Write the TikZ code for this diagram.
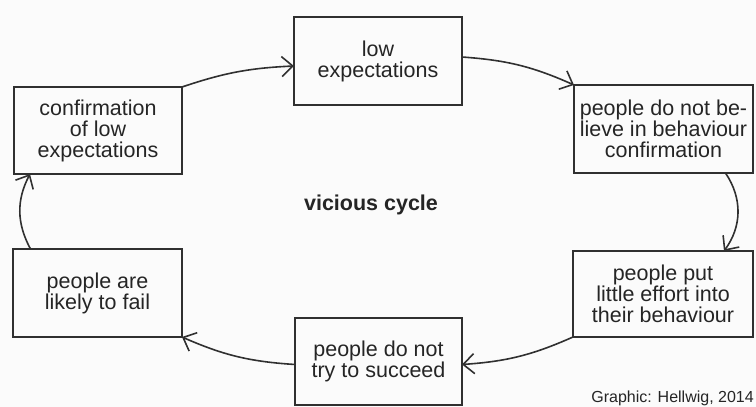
\documentclass[tikz,border=0pt]{standalone}
\usepackage{fontspec}
\setmainfont{Liberation Sans}
\usetikzlibrary{arrows.meta}
\definecolor{linecol}{HTML}{303030}
\definecolor{textcol}{HTML}{252525}
\definecolor{bgcol}{HTML}{FBFBFB}
\tikzset{
  box/.style={draw=linecol, line width=1.8pt, rectangle, inner sep=0pt, outer sep=0pt,
    align=center, text=textcol, font=\fontsize{21.5}{21}\selectfont},
  conn/.style={draw=linecol, line width=1.6pt,
    -{Straight Barb[length=11pt,width=20pt,line width=1.6pt]}},
}
\begin{document}
\begin{tikzpicture}[x=1pt,y=-1pt]
\fill[bgcol] (0,0) rectangle (756,407);
\useasboundingbox (0,0) rectangle (756,407);

\node[box, minimum width=168pt, minimum height=88pt] (low) at (378,61) {low\\expectations};
\node[box, minimum width=168pt, minimum height=87pt] (conf) at (98,130.5) {confirmation\\of low\\expectations};
\node[box, minimum width=179pt, minimum height=88pt] (believe) at (663.5,129) {people do not be-\\lieve in behaviour\\confirmation};
\node[box, minimum width=180pt, minimum height=86pt] (put) at (663,294) {people put\\little effort into\\their behaviour};
\node[box, minimum width=169pt, minimum height=88pt] (likely) at (97.5,293) {people are\\likely to fail};
\node[box, minimum width=167pt, minimum height=87pt] (try) at (378.5,361.5) {people do not\\try to succeed};

\node[font=\bfseries\fontsize{21.5}{21}\selectfont, text=textcol] (title) at (371,205) {vicious cycle};
\node[anchor=base east, font=\fontsize{16}{18}\selectfont, text=textcol, inner sep=0pt] (credit) at (754,402) {Graphic: Hellwig, 2014};

\draw[conn] (conf.north east) to[bend left=8] ([yshift=-5pt]low.west);
\draw[conn] ([yshift=4pt]low.east) to[bend left=10] (believe.north west);
\draw[conn] ([xshift=62pt]believe.south) to[bend left=35] ([xshift=61pt]put.north);
\draw[conn] (put.south west) to[bend left=10] ([yshift=-3pt]try.east);
\draw[conn] ([yshift=-3pt]try.west) to[bend left=10] (likely.south east);
\draw[conn] ([xshift=-67pt]likely.north) to[bend left=28] ([xshift=-68pt]conf.south);
\end{tikzpicture}
\end{document}
